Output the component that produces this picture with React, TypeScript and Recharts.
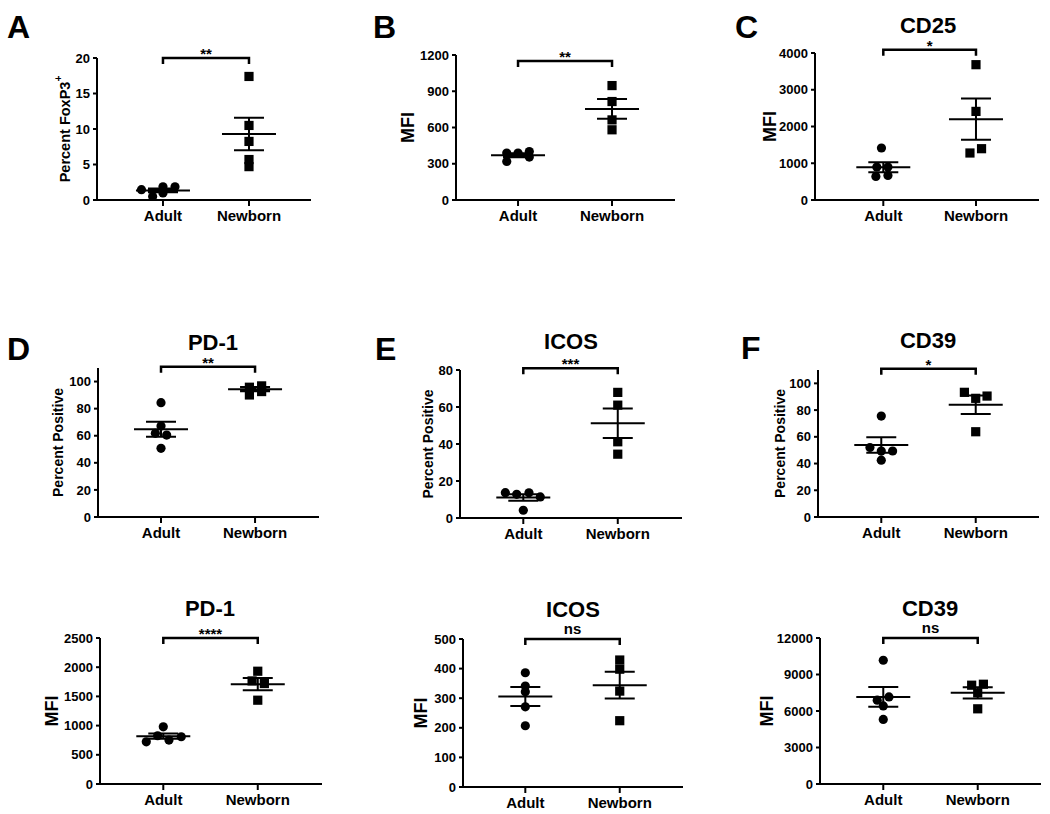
import React from "react";
import { ScatterChart, Scatter, XAxis, YAxis, ReferenceLine } from "recharts";

const GROUPS = ["Adult", "Newborn"];
const FONT = '"Liberation Sans", Arial, Helvetica, sans-serif';

// A: Percent FoxP3+
const foxp3Adult = [1.45, 0.5, 1.85, 1.0, 1.85];
const foxp3AdultJitter = [-0.25, -0.12, 0, 0, 0.14];
const foxp3Newborn = [17.4, 10.5, 8.25, 5.7, 4.7];
const foxp3NewbornJitter = [0, 0, 0, 0, 0];
const foxp3Mean = [1.35, 9.3];
const foxp3Sem = [0.26, 2.28];
const foxp3Ticks = [0, 5, 10, 15, 20];

// B: FoxP3 MFI
const foxMfiAdult = [388, 388, 401, 355, 319];
const foxMfiAdultJitter = [-0.12, 0, 0.12, 0.12, -0.12];
const foxMfiNewborn = [947, 815, 663, 581];
const foxMfiNewbornJitter = [0, 0, 0, 0];
const foxMfiMean = [370, 754];
const foxMfiSem = [16, 82];
const foxMfiTicks = [0, 300, 600, 900, 1200];

// C: CD25 MFI
const cd25Adult = [1415, 898, 898, 642, 669];
const cd25AdultJitter = [-0.02, -0.07, 0.05, -0.08, 0.05];
const cd25Newborn = [3682, 2411, 1396, 1279];
const cd25NewbornJitter = [0, 0, 0.06, -0.065];
const cd25Mean = [890, 2200];
const cd25Sem = [135, 560];
const cd25Ticks = [0, 1000, 2000, 3000, 4000];

// D: PD-1 percent positive
const pd1PctAdult = [84.4, 67.2, 61.8, 60.5, 50.7];
const pd1PctAdultJitter = [0, 0, -0.06, 0.06, 0];
const pd1PctNewborn = [95.8, 96.8, 90.1, 92.6];
const pd1PctNewbornJitter = [-0.06, 0.07, -0.06, 0.07];
const pd1PctMean = [64.8, 94.4];
const pd1PctSem = [5.5, 1.5];

// E: ICOS percent positive
const icosPctAdult = [13.7, 12.8, 13.6, 11.4, 4.2];
const icosPctAdultJitter = [-0.19, -0.07, 0.06, 0.18, 0];
const icosPctNewborn = [67.9, 61, 41.2, 34.5];
const icosPctNewbornJitter = [0, 0, 0, 0];
const icosPctMean = [11.1, 51.2];
const icosPctSem = [1.8, 8];
const icosPctTicks = [0, 20, 40, 60, 80];

// F: CD39 percent positive
const cd39PctAdult = [75.5, 52, 49.3, 49.4, 42.5];
const cd39PctAdultJitter = [0, -0.12, 0, 0.12, 0];
const cd39PctNewborn = [93.3, 88.8, 90.5, 63.8];
const cd39PctNewbornJitter = [-0.12, 0, 0.12, 0];
const cd39PctMean = [53.8, 84];
const cd39PctSem = [5.8, 7];

const pctTicks = [0, 20, 40, 60, 80, 100];

// bottom row: MFI
const pd1MfiAdult = [979, 826, 723, 752, 809];
const pd1MfiAdultJitter = [0, -0.06, -0.18, 0.06, 0.19];
const pd1MfiNewborn = [1931, 1765, 1720, 1435];
const pd1MfiNewbornJitter = [0, -0.06, 0.07, 0];
const pd1MfiMean = [818, 1710];
const pd1MfiSem = [45, 105];
const pd1MfiTicks = [0, 500, 1000, 1500, 2000, 2500];

const icosMfiAdult = [386, 341, 322, 271, 207];
const icosMfiAdultJitter = [0, 0, 0, 0, 0];
const icosMfiNewborn = [429, 398, 324, 224];
const icosMfiNewbornJitter = [0, 0, 0, 0];
const icosMfiMean = [306, 344];
const icosMfiSem = [32, 45];
const icosMfiTicks = [0, 100, 200, 300, 400, 500];

const cd39MfiAdult = [10170, 7160, 6890, 6420, 5310];
const cd39MfiAdultJitter = [0, 0.06, -0.064, 0, 0];
const cd39MfiNewborn = [8120, 8200, 7490, 6180];
const cd39MfiNewbornJitter = [-0.064, 0.06, 0, 0];
const cd39MfiMean = [7160, 7490];
const cd39MfiSem = [820, 460];
const cd39MfiTicks = [0, 3000, 6000, 9000, 12000];

interface Panel {
  key: string;
  adult: number[];
  adultJitter: number[];
  newborn: number[];
  newbornJitter: number[];
  mean: number[];
  sem: number[];
  sig: string;
  bracketY: number;
  yMax: number;
  yTicks: number[];
  yTitle: string;
  ySup?: string;
  yTitleSize: number;
  yTitleGap: number;
  box: number[]; // plot left, right, top, bottom (page px)
  xDomain: number[];
}

const PANELS: Panel[] = [
  { key: "A", adult: foxp3Adult, adultJitter: foxp3AdultJitter, newborn: foxp3Newborn, newbornJitter: foxp3NewbornJitter, mean: foxp3Mean, sem: foxp3Sem, sig: "**", bracketY: 20, yMax: 20, yTicks: foxp3Ticks, yTitle: "Percent FoxP3", ySup: "+", yTitleSize: 14.5, yTitleGap: 32, box: [97, 311, 58, 200], xDomain: [0.233, 2.721] },
  { key: "B", adult: foxMfiAdult, adultJitter: foxMfiAdultJitter, newborn: foxMfiNewborn, newbornJitter: foxMfiNewbornJitter, mean: foxMfiMean, sem: foxMfiSem, sig: "**", bracketY: 1150, yMax: 1200, yTicks: foxMfiTicks, yTitle: "MFI", yTitleSize: 18, yTitleGap: 48, box: [456, 675, 55, 200], xDomain: [0.34, 2.67] },
  { key: "C", adult: cd25Adult, adultJitter: cd25AdultJitter, newborn: cd25Newborn, newbornJitter: cd25NewbornJitter, mean: cd25Mean, sem: cd25Sem, sig: "*", bracketY: 4090, yMax: 4000, yTicks: cd25Ticks, yTitle: "MFI", yTitleSize: 18, yTitleGap: 45, box: [815, 1039, 53, 200], xDomain: [0.263, 2.68] },
  { key: "D", adult: pd1PctAdult, adultJitter: pd1PctAdultJitter, newborn: pd1PctNewborn, newbornJitter: pd1PctNewbornJitter, mean: pd1PctMean, sem: pd1PctSem, sig: "**", bracketY: 111, yMax: 110, yTicks: pctTicks, yTitle: "Percent Positive", yTitleSize: 14, yTitleGap: 40, box: [98, 319, 368, 517], xDomain: [0.33, 2.68] },
  { key: "E", adult: icosPctAdult, adultJitter: icosPctAdultJitter, newborn: icosPctNewborn, newbornJitter: icosPctNewbornJitter, mean: icosPctMean, sem: icosPctSem, sig: "***", bracketY: 81, yMax: 80, yTicks: icosPctTicks, yTitle: "Percent Positive", yTitleSize: 14, yTitleGap: 32, box: [460, 682, 370, 518], xDomain: [0.33, 2.68] },
  { key: "F", adult: cd39PctAdult, adultJitter: cd39PctAdultJitter, newborn: cd39PctNewborn, newbornJitter: cd39PctNewbornJitter, mean: cd39PctMean, sem: cd39PctSem, sig: "*", bracketY: 111, yMax: 110, yTicks: pctTicks, yTitle: "Percent Positive", yTitleSize: 14, yTitleGap: 38, box: [818, 1039, 370, 517], xDomain: [0.33, 2.67] },
  { key: "G", adult: pd1MfiAdult, adultJitter: pd1MfiAdultJitter, newborn: pd1MfiNewborn, newbornJitter: pd1MfiNewbornJitter, mean: pd1MfiMean, sem: pd1MfiSem, sig: "****", bracketY: 2500, yMax: 2500, yTicks: pd1MfiTicks, yTitle: "MFI", yTitleSize: 18, yTitleGap: 48, box: [100, 322, 638, 784], xDomain: [0.33, 2.68] },
  { key: "H", adult: icosMfiAdult, adultJitter: icosMfiAdultJitter, newborn: icosMfiNewborn, newbornJitter: icosMfiNewbornJitter, mean: icosMfiMean, sem: icosMfiSem, sig: "ns", bracketY: 500, yMax: 500, yTicks: icosMfiTicks, yTitle: "MFI", yTitleSize: 18, yTitleGap: 42, box: [463, 683, 639, 787], xDomain: [0.34, 2.67] },
  { key: "I", adult: cd39MfiAdult, adultJitter: cd39MfiAdultJitter, newborn: cd39MfiNewborn, newbornJitter: cd39MfiNewbornJitter, mean: cd39MfiMean, sem: cd39MfiSem, sig: "ns", bracketY: 12000, yMax: 12000, yTicks: cd39MfiTicks, yTitle: "MFI", yTitleSize: 18, yTitleGap: 53, box: [820, 1041, 638, 784], xDomain: [0.33, 2.67] },
];

// panel letters and marker titles
const LETTERS = [
  { text: "A", x: 7, y: 38 },
  { text: "B", x: 373, y: 38 },
  { text: "C", x: 735, y: 38 },
  { text: "D", x: 7, y: 360 },
  { text: "E", x: 375, y: 360 },
  { text: "F", x: 741, y: 359 },
];
const TITLES = [
  { text: "CD25", x: 928, y: 33 },
  { text: "PD-1", x: 213, y: 350 },
  { text: "ICOS", x: 571, y: 349 },
  { text: "CD39", x: 928, y: 348 },
  { text: "PD-1", x: 210, y: 616 },
  { text: "ICOS", x: 573, y: 617 },
  { text: "CD39", x: 930, y: 616 },
];

const AXIS = { stroke: "#000", strokeWidth: 2 };
const ML = 70;
const MT = 50;
const MR = 8;
const MB = 40;

function bracketShape(sig: string) {
  return (props: any) => {
    const { x1, y1, x2 } = props;
    const stars = sig.includes("*");
    return (
      <g>
        <path d={`M${x1},${y1 + 6}V${y1}H${x2}V${y1 + 6}`} fill="none" stroke="#000" strokeWidth={2.5} />
        <text x={(x1 + x2) / 2} y={stars ? y1 + 1 : y1 - 5} textAnchor="middle" fontSize={15} fontWeight={700} fontFamily={FONT} fill="#000">
          {sig}
        </text>
      </g>
    );
  };
}

// mean line + SEM whiskers, drawn from a vertical segment mean-sem..mean+sem
function semShape(props: any) {
  const { x1, y1, y2 } = props;
  const my = (y1 + y2) / 2;
  return (
    <path
      d={`M${x1 - 27},${my}H${x1 + 27}M${x1 - 15},${y1}H${x1 + 15}M${x1 - 15},${y2}H${x1 + 15}M${x1},${y1}V${y2}`}
      stroke="#000"
      strokeWidth={2}
      fill="none"
    />
  );
}

function axisTitle(p: Panel) {
  return (props: any) => {
    const vb = props.viewBox || { x: 0, y: MT, width: ML, height: p.box[3] - p.box[2] };
    const cx = vb.x + vb.width - p.yTitleGap;
    const cy = vb.y + vb.height / 2;
    return (
      <text
        x={cx}
        y={cy}
        transform={`rotate(-90, ${cx}, ${cy})`}
        textAnchor="middle"
        dominantBaseline="central"
        fontSize={p.yTitleSize}
        fontWeight={700}
        fontFamily={FONT}
        fill="#000"
      >
        {p.yTitle}
        {p.ySup ? (
          <tspan dy={-p.yTitleSize * 0.45} fontSize={p.yTitleSize * 0.7}>
            {p.ySup}
          </tspan>
        ) : null}
      </text>
    );
  };
}

function DotPanel({ p }: { p: Panel }) {
  const [left, right, top, bottom] = p.box;
  const adultPts = p.adult.map((y, i) => ({ x: 1 + p.adultJitter[i], y }));
  const newbornPts = p.newborn.map((y, i) => ({ x: 2 + p.newbornJitter[i], y }));

  return (
    <div style={{ position: "absolute", left: left - ML, top: top - MT }}>
      <ScatterChart
        width={ML + right - left + MR}
        height={MT + bottom - top + MB}
        margin={{ top: MT, right: MR, bottom: 0, left: 0 }}
      >
        <XAxis
          type="number"
          dataKey="x"
          domain={p.xDomain}
          ticks={[1, 2]}
          interval={0}
          allowDataOverflow
          height={MB}
          tickFormatter={(v: number) => GROUPS[v - 1]}
          axisLine={AXIS}
          tickLine={AXIS}
          tickSize={6}
          tickMargin={4}
          tick={{ fill: "#000", fontSize: 15, fontWeight: 700, fontFamily: FONT }}
        />
        <YAxis
          type="number"
          dataKey="y"
          width={ML}
          domain={[0, p.yMax]}
          ticks={p.yTicks}
          interval={0}
          allowDataOverflow
          axisLine={AXIS}
          tickLine={AXIS}
          tickSize={4}
          tickMargin={3}
          tick={{ fill: "#000", fontSize: 13, fontWeight: 700, fontFamily: FONT }}
          label={axisTitle(p)}
        />
        <Scatter
          data={adultPts}
          fill="#000"
          isAnimationActive={false}
          shape={(s: any) => <circle cx={s.cx} cy={s.cy} r={4.6} fill="#000" />}
        />
        <Scatter
          data={newbornPts}
          fill="#000"
          isAnimationActive={false}
          shape={(s: any) => <rect x={s.cx - 4.6} y={s.cy - 4.6} width={9.2} height={9.2} fill="#000" />}
        />
        {p.mean.map((m, i) => (
          <ReferenceLine
            key={`sem-${i}`}
            ifOverflow="visible"
            segment={[
              { x: i + 1, y: m - p.sem[i] },
              { x: i + 1, y: m + p.sem[i] },
            ]}
            shape={semShape}
          />
        ))}
        <ReferenceLine
          ifOverflow="visible"
          segment={[
            { x: 1, y: p.bracketY },
            { x: 2, y: p.bracketY },
          ]}
          shape={bracketShape(p.sig)}
        />
      </ScatterChart>
    </div>
  );
}

export default function App() {
  return (
    <div style={{ position: "relative", width: 1050, height: 814, background: "#fff", fontFamily: FONT }}>
      <style>{"body{margin:0;background:#fff}"}</style>
      {PANELS.map((p) => (
        <DotPanel key={p.key} p={p} />
      ))}
      <svg width={1050} height={814} style={{ position: "absolute", left: 0, top: 0, pointerEvents: "none" }}>
        {LETTERS.map((l) => (
          <text key={l.text} x={l.x} y={l.y} fontSize={32} fontWeight={700} fontFamily={FONT} fill="#000">
            {l.text}
          </text>
        ))}
        {TITLES.map((t, i) => (
          <text key={i} x={t.x} y={t.y} textAnchor="middle" fontSize={22} fontWeight={700} fontFamily={FONT} fill="#000">
            {t.text}
          </text>
        ))}
      </svg>
    </div>
  );
}
